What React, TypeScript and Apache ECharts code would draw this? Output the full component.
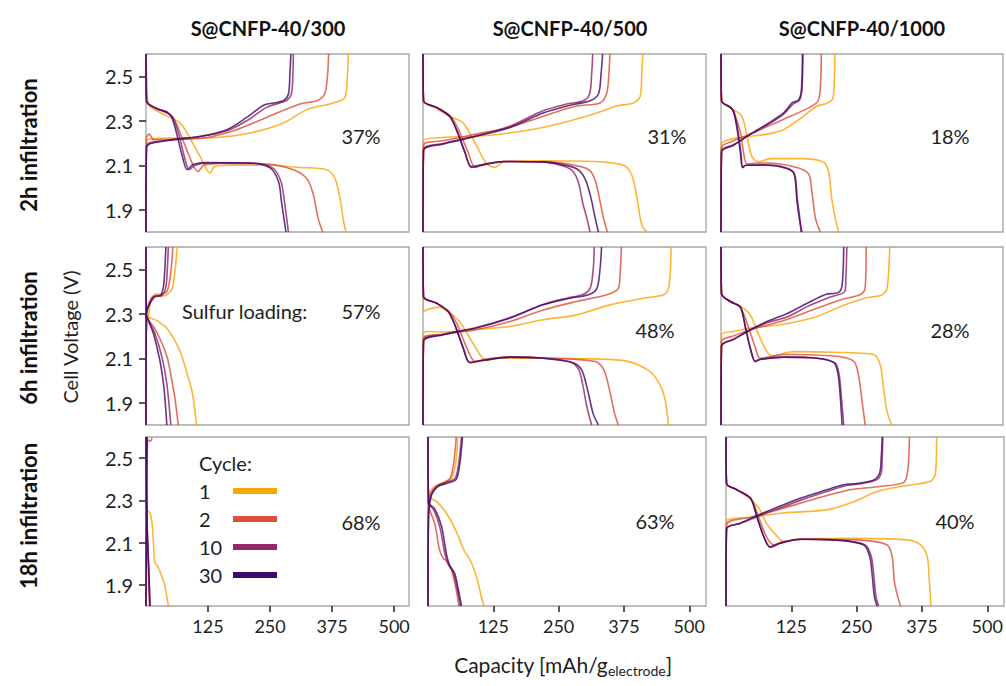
import React, { useEffect, useRef } from 'react';
import * as echarts from 'echarts';

const FONT = 'Lato, "Noto Sans", sans-serif';

const COLUMN_TITLES = ['S@CNFP-40/300', 'S@CNFP-40/500', 'S@CNFP-40/1000'];
const ROW_TITLES = ['2h infiltration', '6h infiltration', '18h infiltration'];
const CYCLES = ['1', '2', '10', '30'];
const CYCLE_COLORS = ['#FCA50A', '#DD513A', '#932667', '#420A68'];
const LOADINGS = ['37%', '31%', '18%', '57%', '48%', '28%', '68%', '63%', '40%'];
const Y_TICKS = [1.9, 2.1, 2.3, 2.5];
const X_TICKS = [125, 250, 375, 500];

// ---- 2h / 300 ----
const DIS_2H_300_C1 = [[0,2.6],[3,2.4],[5,2.37],[42,2.322],[69,2.29],[89,2.22],[109,2.14],[129,2.065],[139,2.095],[176,2.1],[243,2.1],[310,2.09],[364,2.08],[381,2.04],[391,1.95],[398,1.85],[403,1.8]];
const DIS_2H_300_C2 = [[0,2.6],[1,2.385],[21,2.355],[42,2.335],[55,2.315],[75,2.21],[95,2.1],[105,2.072],[116,2.1],[150,2.108],[243,2.105],[297,2.08],[324,2.04],[337,1.97],[347,1.86],[356,1.8]];
const DIS_2H_300_C10 = [[0,2.6],[1,2.39],[21,2.355],[42,2.34],[55,2.31],[66,2.24],[78,2.133],[87,2.08],[99,2.1],[125,2.11],[212,2.11],[255,2.088],[272,2.027],[279,1.936],[287,1.8]];
const DIS_2H_300_C30 = [[0,2.6],[1,2.39],[21,2.355],[42,2.338],[52,2.315],[62,2.24],[74,2.133],[83,2.08],[95,2.103],[122,2.112],[210,2.11],[250,2.088],[267,2.027],[273,1.936],[282,1.8]];
const CHG_2H_300_C1 = [[0,1.8],[1,2.21],[20,2.22],[62,2.222],[142,2.225],[210,2.245],[277,2.29],[324,2.35],[378,2.38],[401,2.405],[406,2.51],[408,2.6]];
const CHG_2H_300_C2 = [[0,1.8],[1,2.225],[7,2.24],[15,2.215],[109,2.22],[176,2.255],[243,2.315],[310,2.375],[344,2.39],[360,2.42],[366,2.51],[368,2.6]];
const CHG_2H_300_C10 = [[0,1.8],[1,2.185],[42,2.212],[109,2.228],[163,2.255],[203,2.3],[243,2.36],[270,2.38],[284,2.392],[293,2.42],[296,2.51],[297,2.6]];
const CHG_2H_300_C30 = [[0,1.8],[1,2.18],[42,2.21],[109,2.23],[163,2.26],[203,2.315],[237,2.37],[257,2.38],[277,2.39],[287,2.42],[290,2.51],[292,2.6]];

// ---- 2h / 500 ----
const DIS_2H_500_C1 = [[0,2.6],[1,2.39],[26,2.355],[51,2.32],[77,2.29],[102,2.19],[122,2.107],[138,2.09],[154,2.115],[230,2.12],[326,2.117],[384,2.1],[400,2.055],[410,1.95],[419,1.83],[429,1.8]];
const DIS_2H_500_C2 = [[0,2.6],[1,2.39],[26,2.36],[53,2.32],[68,2.26],[86,2.16],[100,2.09],[114,2.1],[160,2.117],[240,2.115],[300,2.095],[320,2.075],[330,2.03],[338,1.95],[346,1.86],[353,1.8]];
const DIS_2H_500_C10 = [[0,2.6],[1,2.39],[26,2.36],[51,2.32],[64,2.26],[80,2.16],[92,2.095],[108,2.1],[154,2.117],[230,2.115],[270,2.095],[288,2.07],[298,2.02],[306,1.93],[314,1.86],[320,1.8]];
const DIS_2H_500_C30 = [[0,2.6],[1,2.39],[26,2.36],[51,2.32],[64,2.26],[80,2.16],[93,2.09],[109,2.1],[154,2.117],[230,2.115],[282,2.095],[300,2.075],[312,2.03],[322,1.95],[330,1.86],[336,1.8]];
const CHG_2H_500_C1 = [[0,1.8],[1,2.21],[38,2.225],[102,2.23],[166,2.245],[230,2.27],[282,2.3],[333,2.335],[371,2.366],[403,2.38],[416,2.41],[419,2.51],[421,2.6]];
const CHG_2H_500_C2 = [[0,1.8],[1,2.19],[38,2.21],[102,2.24],[166,2.27],[230,2.32],[294,2.366],[339,2.38],[352,2.425],[356,2.51],[358,2.6]];
const CHG_2H_500_C10 = [[0,1.8],[1,2.17],[38,2.198],[102,2.232],[166,2.275],[230,2.345],[275,2.375],[307,2.39],[319,2.42],[323,2.51],[325,2.6]];
const CHG_2H_500_C30 = [[0,1.8],[1,2.166],[38,2.195],[102,2.23],[166,2.27],[230,2.335],[282,2.37],[320,2.39],[336,2.42],[341,2.51],[344,2.6]];

// ---- 2h / 1000 ----
const DIS_2H_1000_C1 = [[0,2.6],[1,2.39],[24,2.35],[40,2.32],[50,2.23],[59,2.14],[72,2.115],[94,2.13],[152,2.13],[196,2.115],[206,2.07],[212,1.95],[219,1.86],[225,1.8]];
const DIS_2H_1000_C2 = [[0,2.6],[1,2.39],[18,2.36],[24,2.34],[37,2.25],[43,2.16],[50,2.107],[88,2.11],[145,2.09],[168,2.06],[174,1.98],[181,1.86],[190,1.8]];
const DIS_2H_1000_C10 = [[0,2.6],[1,2.39],[18,2.36],[25,2.34],[32,2.26],[38,2.16],[42,2.09],[48,2.1],[88,2.102],[126,2.088],[141,2.06],[146,1.95],[151,1.86],[153,1.8]];
const DIS_2H_1000_C30 = [[0,2.6],[1,2.39],[18,2.36],[24,2.34],[31,2.26],[37,2.16],[41,2.09],[47,2.1],[88,2.1],[126,2.085],[140,2.06],[145,1.95],[150,1.86],[155,1.8]];
const CHG_2H_1000_C1 = [[0,1.8],[1,2.195],[24,2.22],[56,2.23],[88,2.24],[120,2.26],[152,2.31],[184,2.366],[203,2.378],[214,2.4],[217,2.48],[218,2.6]];
const CHG_2H_1000_C2 = [[0,1.8],[1,2.18],[24,2.21],[56,2.24],[120,2.307],[152,2.34],[177,2.37],[187,2.395],[191,2.48],[192,2.6]];
const CHG_2H_1000_C10 = [[0,1.8],[1,2.165],[24,2.192],[56,2.238],[88,2.28],[120,2.33],[138,2.375],[150,2.392],[155,2.44],[157,2.6]];
const CHG_2H_1000_C30 = [[0,1.8],[1,2.16],[24,2.19],[56,2.24],[88,2.285],[120,2.335],[136,2.38],[149,2.395],[154,2.44],[156,2.6]];

// ---- 6h / 300 ----
const DIS_6H_300_C1 = [[0,2.6],[0.5,2.3],[1,2.29],[21,2.27],[42,2.235],[65,2.15],[75,2.09],[85,2.015],[90,1.977],[95,1.925],[102,1.8]];
const DIS_6H_300_C2 = [[0,2.6],[0.5,2.3],[1,2.29],[21,2.22],[42,2.11],[52,2.0],[58,1.925],[65,1.8]];
const DIS_6H_300_C10 = [[0,2.6],[0.5,2.3],[1,2.29],[18,2.21],[32,2.106],[42,1.985],[50,1.8]];
const DIS_6H_300_C30 = [[0,2.6],[0.5,2.3],[1,2.29],[15,2.21],[28,2.09],[36,1.97],[42,1.8]];
const CHG_6H_300_C1 = [[0,2.21],[1,2.22],[5,2.29],[11,2.37],[21,2.39],[35,2.38],[52,2.41],[58,2.485],[63,2.6]];
const CHG_6H_300_C2 = [[0,1.8],[0.5,2.25],[1,2.3],[11,2.37],[28,2.386],[42,2.4],[48,2.455],[52,2.53],[54,2.6]];
const CHG_6H_300_C10 = [[0,1.8],[0.5,2.25],[1,2.3],[9,2.35],[20,2.378],[32,2.382],[40,2.42],[43,2.5],[45,2.6]];
const CHG_6H_300_C30 = [[0,1.8],[0.5,2.25],[1,2.3],[8,2.35],[18,2.38],[28,2.38],[35,2.42],[38,2.5],[40,2.6]];

// ---- 6h / 500 ----
const DIS_6H_500_C1 = [[0,2.6],[1,2.31],[10,2.32],[30,2.33],[51,2.305],[70,2.265],[90,2.19],[109,2.116],[122,2.09],[141,2.1],[230,2.1],[326,2.097],[390,2.087],[435,2.04],[454,1.98],[464,1.91],[470,1.8]];
const DIS_6H_500_C2 = [[0,2.6],[1,2.377],[26,2.347],[50,2.31],[66,2.25],[84,2.146],[100,2.085],[118,2.095],[166,2.105],[250,2.1],[330,2.085],[346,2.05],[358,1.95],[366,1.86],[374,1.8]];
const DIS_6H_500_C10 = [[0,2.6],[1,2.377],[26,2.347],[48,2.31],[61,2.25],[77,2.146],[89,2.082],[112,2.09],[166,2.105],[230,2.1],[280,2.085],[298,2.05],[306,1.98],[314,1.88],[323,1.8]];
const DIS_6H_500_C30 = [[0,2.6],[1,2.377],[26,2.347],[48,2.31],[61,2.25],[77,2.146],[90,2.08],[115,2.09],[166,2.105],[230,2.1],[288,2.08],[300,2.06],[307,2.03],[317,1.94],[326,1.85],[336,1.8]];
const CHG_6H_500_C1 = [[0,1.8],[1,2.213],[13,2.22],[38,2.218],[102,2.23],[166,2.243],[230,2.273],[294,2.295],[358,2.34],[422,2.37],[461,2.385],[470,2.414],[474,2.5],[475,2.6]];
const CHG_6H_500_C2 = [[0,1.8],[1,2.19],[38,2.208],[102,2.228],[166,2.265],[230,2.317],[294,2.355],[352,2.385],[374,2.414],[378,2.5],[380,2.6]];
const CHG_6H_500_C10 = [[0,1.8],[1,2.18],[38,2.207],[102,2.238],[166,2.282],[230,2.342],[275,2.37],[305,2.385],[320,2.414],[326,2.5],[328,2.6]];
const CHG_6H_500_C30 = [[0,1.8],[1,2.176],[38,2.205],[102,2.236],[166,2.28],[230,2.34],[282,2.37],[317,2.385],[333,2.414],[339,2.5],[342,2.6]];

// ---- 6h / 1000 ----
const DIS_6H_1000_C1 = [[0,2.6],[1,2.39],[18,2.355],[40,2.33],[56,2.295],[72,2.206],[88,2.13],[98,2.11],[139,2.13],[216,2.127],[292,2.117],[305,2.07],[311,1.97],[318,1.86],[327,1.8]];
const DIS_6H_1000_C2 = [[0,2.6],[1,2.39],[18,2.355],[37,2.33],[53,2.236],[66,2.146],[75,2.1],[120,2.117],[216,2.11],[254,2.087],[263,2.027],[270,1.91],[276,1.8]];
const DIS_6H_1000_C10 = [[0,2.6],[1,2.39],[18,2.355],[37,2.33],[47,2.236],[56,2.146],[65,2.087],[74,2.095],[120,2.105],[184,2.1],[218,2.08],[226,2.03],[230,1.94],[235,1.8]];
const DIS_6H_1000_C30 = [[0,2.6],[1,2.39],[18,2.355],[37,2.33],[47,2.236],[56,2.146],[66,2.084],[75,2.094],[120,2.105],[184,2.1],[216,2.08],[224,2.03],[228,1.94],[232,1.8]];
const CHG_6H_1000_C1 = [[0,1.8],[1,2.206],[24,2.22],[56,2.236],[120,2.253],[184,2.288],[228,2.332],[279,2.372],[308,2.384],[318,2.414],[323,2.6]];
const CHG_6H_1000_C2 = [[0,1.8],[1,2.176],[24,2.2],[56,2.228],[120,2.27],[184,2.325],[228,2.362],[266,2.385],[276,2.414],[278,2.6]];
const CHG_6H_1000_C10 = [[0,1.8],[1,2.158],[24,2.186],[56,2.226],[88,2.26],[126,2.285],[165,2.332],[209,2.375],[237,2.4],[239,2.45],[241,2.6]];
const CHG_6H_1000_C30 = [[0,1.8],[1,2.154],[24,2.184],[56,2.228],[88,2.265],[126,2.3],[165,2.347],[200,2.387],[225,2.396],[232,2.43],[235,2.6]];

// ---- 18h / 300 ----
const DIS_18H_300_C1 = [[0,2.45],[1,2.25],[5,2.248],[9,2.232],[13,2.177],[15,2.1],[18,2.005],[23,1.99],[32,1.94],[38,1.895],[45,1.8]];
const DIS_18H_300_C2 = [[0,2.6],[1,2.3],[3,2.1],[5,1.95],[7,1.8]];
const DIS_18H_300_C10 = [[0,2.6],[1,2.32],[3,2.12],[6,1.96],[8,1.8]];
const DIS_18H_300_C30 = [[0,2.6],[1,2.35],[3,2.12],[5,2.0],[8,1.8]];
const CHG_18H_300_C1: number[][] = [];
const CHG_18H_300_C2 = [[0,1.8],[1,2.3],[2,2.5],[5,2.585],[9,2.58],[12,2.595]];
const CHG_18H_300_C10 = [[0,1.8],[1,2.3],[2,2.6]];
const CHG_18H_300_C30 = [[0,1.8],[1,2.3],[2,2.6]];

// ---- 18h / 500 ----
const DIS_18H_500_C1 = [[0,2.6],[1,2.32],[16,2.295],[35,2.24],[54,2.153],[70,2.058],[77,2.034],[86,1.987],[96,1.908],[102,1.844],[107,1.8]];
const DIS_18H_500_C2 = [[0,2.6],[1,2.28],[13,2.19],[22,2.066],[29,2.026],[35,2.015],[45,1.97],[54,1.876],[59,1.8]];
const DIS_18H_500_C10 = [[0,2.6],[1,2.29],[12,2.25],[23,2.17],[32,2.05],[38,2.0],[48,1.96],[55,1.89],[62,1.8]];
const DIS_18H_500_C30 = [[0,2.6],[1,2.29],[13,2.26],[26,2.176],[35,2.05],[41,1.995],[51,1.955],[57,1.89],[64,1.8]];
const CHG_18H_500_C1 = [[0,2.28],[1,2.327],[13,2.366],[29,2.385],[45,2.405],[53,2.477],[57,2.6]];
const CHG_18H_500_C2 = [[0,1.8],[1,2.3],[16,2.366],[41,2.4],[48,2.46],[52,2.54],[54,2.6]];
const CHG_18H_500_C10 = [[0,1.8],[1,2.23],[6,2.325],[19,2.37],[35,2.385],[52,2.405],[59,2.48],[64,2.6]];
const CHG_18H_500_C30 = [[0,1.8],[1,2.224],[6,2.32],[19,2.366],[35,2.38],[54,2.4],[61,2.477],[66,2.6]];

// ---- 18h / 1000 ----
const DIS_18H_1000_C1 = [[0,2.6],[1,2.38],[21,2.35],[47,2.305],[63,2.263],[78,2.19],[98,2.13],[110,2.105],[136,2.116],[238,2.12],[346,2.113],[372,2.09],[385,2.034],[389,1.923],[392,1.8]];
const DIS_18H_1000_C2 = [[0,2.6],[1,2.38],[21,2.35],[47,2.31],[62,2.224],[77,2.13],[91,2.09],[110,2.105],[150,2.116],[250,2.113],[308,2.09],[318,2.034],[322,1.92],[327,1.86],[334,1.8]];
const DIS_18H_1000_C10 = [[0,2.6],[1,2.38],[21,2.35],[47,2.31],[59,2.224],[72,2.13],[84,2.08],[102,2.097],[142,2.116],[206,2.113],[266,2.09],[278,2.034],[283,1.94],[287,1.844],[292,1.8]];
const DIS_18H_1000_C30 = [[0,2.6],[1,2.38],[21,2.35],[47,2.31],[59,2.224],[72,2.13],[85,2.078],[104,2.097],[142,2.116],[206,2.113],[263,2.09],[275,2.034],[280,1.94],[284,1.844],[289,1.8]];
const CHG_18H_1000_C1 = [[0,1.8],[1,2.2],[47,2.22],[110,2.24],[193,2.255],[238,2.287],[289,2.342],[334,2.366],[391,2.39],[401,2.43],[403,2.6]];
const CHG_18H_1000_C2 = [[0,1.8],[1,2.184],[47,2.22],[110,2.263],[174,2.31],[238,2.35],[295,2.366],[340,2.385],[348,2.445],[351,2.6]];
const CHG_18H_1000_C10 = [[0,1.8],[1,2.166],[27,2.19],[78,2.24],[142,2.3],[193,2.342],[230,2.37],[260,2.38],[288,2.397],[297,2.43],[299,2.5],[300,2.6]];
const CHG_18H_1000_C30 = [[0,1.8],[1,2.164],[27,2.192],[78,2.247],[142,2.31],[193,2.35],[225,2.374],[251,2.38],[283,2.397],[294,2.43],[297,2.5],[299,2.6]];

// panels in row-major order; per panel: discharge and charge curves for cycles 1, 2, 10, 30
const PANEL_CURVES = [
  [[DIS_2H_300_C1, DIS_2H_300_C2, DIS_2H_300_C10, DIS_2H_300_C30], [CHG_2H_300_C1, CHG_2H_300_C2, CHG_2H_300_C10, CHG_2H_300_C30]],
  [[DIS_2H_500_C1, DIS_2H_500_C2, DIS_2H_500_C10, DIS_2H_500_C30], [CHG_2H_500_C1, CHG_2H_500_C2, CHG_2H_500_C10, CHG_2H_500_C30]],
  [[DIS_2H_1000_C1, DIS_2H_1000_C2, DIS_2H_1000_C10, DIS_2H_1000_C30], [CHG_2H_1000_C1, CHG_2H_1000_C2, CHG_2H_1000_C10, CHG_2H_1000_C30]],
  [[DIS_6H_300_C1, DIS_6H_300_C2, DIS_6H_300_C10, DIS_6H_300_C30], [CHG_6H_300_C1, CHG_6H_300_C2, CHG_6H_300_C10, CHG_6H_300_C30]],
  [[DIS_6H_500_C1, DIS_6H_500_C2, DIS_6H_500_C10, DIS_6H_500_C30], [CHG_6H_500_C1, CHG_6H_500_C2, CHG_6H_500_C10, CHG_6H_500_C30]],
  [[DIS_6H_1000_C1, DIS_6H_1000_C2, DIS_6H_1000_C10, DIS_6H_1000_C30], [CHG_6H_1000_C1, CHG_6H_1000_C2, CHG_6H_1000_C10, CHG_6H_1000_C30]],
  [[DIS_18H_300_C1, DIS_18H_300_C2, DIS_18H_300_C10, DIS_18H_300_C30], [CHG_18H_300_C1, CHG_18H_300_C2, CHG_18H_300_C10, CHG_18H_300_C30]],
  [[DIS_18H_500_C1, DIS_18H_500_C2, DIS_18H_500_C10, DIS_18H_500_C30], [CHG_18H_500_C1, CHG_18H_500_C2, CHG_18H_500_C10, CHG_18H_500_C30]],
  [[DIS_18H_1000_C1, DIS_18H_1000_C2, DIS_18H_1000_C10, DIS_18H_1000_C30], [CHG_18H_1000_C1, CHG_18H_1000_C2, CHG_18H_1000_C10, CHG_18H_1000_C30]],
];

// layout (pixels)
const GRID_LEFT = [[146, 423, 721], [146, 423, 721], [146, 428, 726]];
const GRID_WIDTH = [[263, 283, 282], [263, 283, 282], [263, 278, 278]];
const GRID_TOP = [54, 247, 437];
const GRID_HEIGHT = [178, 178, 169];
const X_MAX = [[530, 542, 540], [530, 542, 540], [530, 532, 532]];
const TITLE_X = [268, 570, 862];
const ROW_Y = [145, 338, 516];
const LOAD_POS = [[361, 136], [667, 136], [950, 136], [361, 311], [655, 330], [950, 330], [361, 522], [655, 521], [955, 521]];

function buildOption() {
  const grid: any[] = [];
  const xAxis: any[] = [];
  const yAxis: any[] = [];
  const series: any[] = [];
  const graphic: any[] = [];

  for (let r = 0; r < 3; r++) {
    for (let c = 0; c < 3; c++) {
      const i = r * 3 + c;
      const bottom = r === 2;
      const first = c === 0;
      grid.push({
        left: GRID_LEFT[r][c], top: GRID_TOP[r], width: GRID_WIDTH[r][c], height: GRID_HEIGHT[r],
        show: true, borderColor: '#a6a6a6', borderWidth: 1.3, backgroundColor: 'rgba(0,0,0,0)',
      });
      xAxis.push({
        type: 'value', gridIndex: i, min: 0, max: X_MAX[r][c],
        axisLine: { show: false }, splitLine: { show: false },
        axisTick: { show: bottom, customValues: X_TICKS, length: 6, lineStyle: { color: '#222', width: 1.5 } },
        axisLabel: { show: bottom, customValues: X_TICKS, fontSize: 18, fontFamily: FONT, color: '#1e1e1e', margin: 11 },
      });
      yAxis.push({
        type: 'value', gridIndex: i, min: 1.8, max: 2.6,
        axisLine: { show: false }, splitLine: { show: false },
        axisTick: { show: first, customValues: Y_TICKS, length: 7, lineStyle: { color: '#222', width: 1.5 } },
        axisLabel: {
          show: first, customValues: Y_TICKS, fontSize: 20, fontFamily: FONT, color: '#1e1e1e', margin: 13,
          formatter: (v: number) => Number(v).toFixed(1),
        },
      });
      const [dis, chg] = PANEL_CURVES[i];
      CYCLES.forEach((cy, k) => {
        [dis[k], chg[k]].forEach((curve, j) => {
          if (!curve.length) return;
          series.push({
            type: 'line', name: cy, id: `p${i}_c${cy}_${j}`,
            xAxisIndex: i, yAxisIndex: i, data: curve,
            showSymbol: false, symbol: 'none', smooth: 0.3, silent: true,
            lineStyle: { color: CYCLE_COLORS[k], width: 1.6, opacity: 0.82 },
            z: 2 + k,
          });
        });
      });
      graphic.push({
        type: 'text', x: LOAD_POS[i][0], y: LOAD_POS[i][1],
        style: { text: LOADINGS[i], fontSize: 20, fontFamily: FONT, fill: '#1e1e1e', align: 'center', verticalAlign: 'middle' },
      });
    }
  }

  COLUMN_TITLES.forEach((t, c) => {
    graphic.push({
      type: 'text', x: TITLE_X[c], y: 28,
      style: { text: t, fontSize: 20, fontWeight: 'bold', fontFamily: FONT, fill: '#111', align: 'center', verticalAlign: 'middle' },
    });
  });
  ROW_TITLES.forEach((t, r) => {
    graphic.push({
      type: 'text', x: 28, y: ROW_Y[r], rotation: Math.PI / 2,
      style: { text: t, fontSize: 22, fontWeight: 'bold', fontFamily: FONT, fill: '#111', align: 'center', verticalAlign: 'middle' },
    });
  });
  graphic.push({
    type: 'text', x: 70, y: 337, rotation: Math.PI / 2,
    style: { text: 'Cell Voltage (V)', fontSize: 20, fontFamily: FONT, fill: '#1e1e1e', align: 'center', verticalAlign: 'middle' },
  });
  graphic.push({
    type: 'text', x: 182, y: 311,
    style: { text: 'Sulfur loading:', fontSize: 20, fontFamily: FONT, fill: '#1e1e1e', align: 'left', verticalAlign: 'middle' },
  });
  graphic.push({
    type: 'text', x: 563, y: 664,
    style: {
      text: '{a|Capacity [mAh/g}{b|electrode}{a|]}', align: 'center', verticalAlign: 'middle',
      rich: {
        a: { fontSize: 21, fontFamily: FONT, fill: '#1e1e1e', lineHeight: 26, verticalAlign: 'middle' },
        b: { fontSize: 14, fontFamily: FONT, fill: '#1e1e1e', lineHeight: 14, verticalAlign: 'bottom' },
      },
    },
  });
  // legend
  graphic.push({
    type: 'text', x: 199, y: 463,
    style: { text: 'Cycle:', fontSize: 20, fontFamily: FONT, fill: '#1e1e1e', align: 'left', verticalAlign: 'middle' },
  });
  const LEG_Y = [491, 519, 547, 575];
  CYCLES.forEach((cy, k) => {
    graphic.push({
      type: 'text', x: 199, y: LEG_Y[k],
      style: { text: cy, fontSize: 20, fontFamily: FONT, fill: '#1e1e1e', align: 'left', verticalAlign: 'middle' },
    });
    graphic.push({
      type: 'rect', shape: { x: 233, y: LEG_Y[k] - 3, width: 44, height: 6 },
      style: { fill: CYCLE_COLORS[k] },
    });
  });

  return {
    animation: false,
    backgroundColor: '#ffffff',
    grid, xAxis, yAxis, series, graphic,
  };
}

export default function App() {
  const ref = useRef<HTMLDivElement>(null);
  useEffect(() => {
    if (!ref.current) return;
    const chart = echarts.init(ref.current, undefined, { renderer: 'svg' });
    chart.setOption(buildOption() as any);
    return () => chart.dispose();
  }, []);
  return (
    <div
      ref={ref}
      style={{ position: 'absolute', left: 0, top: 0, width: 1006, height: 686, background: '#fff' }}
    />
  );
}
